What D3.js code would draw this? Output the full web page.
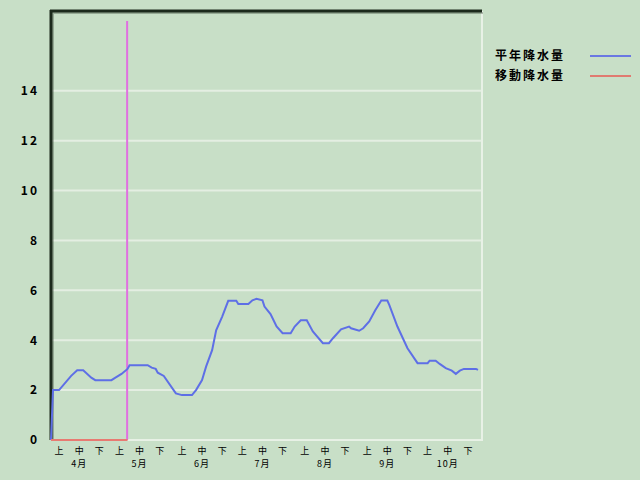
<!DOCTYPE html>
<html><head><meta charset="utf-8">
<script src="https://cdn.jsdelivr.net/npm/d3@7"></script>
<style>
html,body{margin:0;padding:0;background:#c8dfc7;}
svg{display:block;}
text{font-family:"Noto Sans CJK JP","DejaVu Sans",sans-serif;fill:#000;}
</style></head>
<body>
<svg id="c" width="640" height="480"></svg>
<script>
// ---- data ----
const months = ["4月","5月","6月","7月","8月","9月","10月"];
const monthStartDays = [0,30,61,91,122,153,183];
const dekadNames = ["上","中","下"];
const dekadOffsets = [0,10,20];
const yTicks = [0,2,4,6,8,10,12,14];
const seriesNames = ["平年降水量","移動降水量"];

// 平年降水量 (normal), vertices: day index from Apr 1, value
const normalDays =   [0,1,4,10,13,16,20,22,30,32,35,38,39,48,50,52,53,56,62,65,70,72,75,77,80,82,85,88,92,93,98,100,102,105,106,109,112,115,119,121,124,127,130,135,138,140,144,148,149,153,155,158,161,164,167,168,172,177,182,187,188,191,193,196,199,201,203,205,211,212];
const normalValues = [0,2.0,2.0,2.57,2.8,2.8,2.5,2.4,2.4,2.5,2.65,2.85,3.0,3.0,2.9,2.85,2.7,2.57,1.87,1.8,1.8,2.0,2.4,2.94,3.6,4.4,4.95,5.58,5.58,5.45,5.45,5.6,5.66,5.6,5.35,5.05,4.55,4.28,4.28,4.55,4.8,4.8,4.35,3.88,3.88,4.08,4.44,4.55,4.48,4.38,4.48,4.75,5.2,5.59,5.59,5.41,4.55,3.68,3.08,3.08,3.18,3.18,3.05,2.88,2.78,2.65,2.78,2.85,2.85,2.81];

// 移動降水量 (current), daily from Apr 1
const movingValues = [0,0,0,0,0,0,0,0,0,0,0,0,0,0,0,0,0,0,0,0,0,0,0,0,0,0,0,0,0,0,0,0,0,0,0,0,0,0,0];
const todayDay = 37.8;
const yMax = 17.2;
const totalDays = 214;

// ---- drawing ----
const svg = d3.select("#c");
const L=51, R=482, T=11, B=440;
const x = d3.scaleLinear().domain([0,totalDays]).range([L,R]);
const y = d3.scaleLinear().domain([0,yMax]).range([B,T]);

// grid lines
svg.append("g").selectAll("line").data(yTicks.filter(v=>v>0)).join("line")
  .attr("x1",L).attr("x2",R).attr("y1",d=>y(d)).attr("y2",d=>y(d))
  .attr("stroke","#e4eee2").attr("stroke-width",2);
// bottom axis & right border (light)
svg.append("line").attr("x1",L).attr("x2",R+1).attr("y1",B).attr("y2",B)
  .attr("stroke","#e8f1e6").attr("stroke-width",2);
svg.append("line").attr("x1",R).attr("x2",R).attr("y1",T).attr("y2",B)
  .attr("stroke","#e8f1e6").attr("stroke-width",2);

// y axis labels
const yAxis = d3.axisLeft(y).tickValues(yTicks).tickSize(0).tickPadding(12).tickFormat(d3.format("d"));
const gy = svg.append("g").attr("transform",`translate(${L},0)`).call(yAxis);
gy.select(".domain").remove();
gy.selectAll("text").attr("font-size",12).attr("font-weight","bold")
  .attr("letter-spacing","2px").attr("fill","#000").attr("font-family","\"Noto Sans CJK JP\",sans-serif");

// x labels
const dek = [];
monthStartDays.forEach((s,mi)=>dekadNames.forEach((n,di)=>dek.push({n, d:s+dekadOffsets[di]+4.5})));
svg.append("g").selectAll("text").data(dek).join("text")
  .attr("x",d=>x(d.d)-1).attr("y",454).attr("text-anchor","middle")
  .attr("font-size",9).text(d=>d.n);
svg.append("g").selectAll("text").data(months).join("text")
  .attr("x",(d,i)=>x(monthStartDays[i]+14.5)-1).attr("y",467).attr("text-anchor","middle")
  .attr("font-size",9).attr("letter-spacing","1px").text(d=>d);

// dark top/left frame
const shadow = svg.append("g").attr("opacity",0.35);
shadow.append("line").attr("x1",L+1).attr("x2",R+1).attr("y1",T+2).attr("y2",T+2).attr("stroke","#3a4a3a").attr("stroke-width",2);
shadow.append("line").attr("x1",L+2).attr("x2",L+2).attr("y1",T+1).attr("y2",B).attr("stroke","#3a4a3a").attr("stroke-width",2);
svg.append("line").attr("x1",L-1).attr("x2",R).attr("y1",T).attr("y2",T).attr("stroke","#1c2a1c").attr("stroke-width",3);
svg.append("line").attr("x1",L).attr("x2",L).attr("y1",T-1).attr("y2",B).attr("stroke","#1c2a1c").attr("stroke-width",3);

// today marker
svg.append("line").attr("x1",x(todayDay)).attr("x2",x(todayDay)).attr("y1",21).attr("y2",B)
  .attr("stroke","#e070e0").attr("stroke-width",2);

// normal line
const line = d3.line().x(d=>x(d[0])).y(d=>y(d[1]));
svg.append("path").datum(normalDays.map((d,i)=>[d,normalValues[i]]))
  .attr("d",line).attr("fill","none").attr("stroke","#5e6fe6").attr("stroke-width",2);
// moving line
svg.append("path").datum(movingValues.map((v,i)=>[i,v]).concat([[todayDay,movingValues[movingValues.length-1]]]))
  .attr("d",line).attr("fill","none").attr("stroke","#e87a72").attr("stroke-width",2);

// legend
const legColors = ["#6a78e2","#e07a70"];
const lg = svg.append("g");
seriesNames.forEach((n,i)=>{
  lg.append("text").attr("x",495).attr("y",60+i*20).attr("font-size",12).attr("font-weight","bold")
    .attr("letter-spacing","2px").text(n);
  lg.append("line").attr("x1",590).attr("x2",631).attr("y1",56+i*20).attr("y2",56+i*20)
    .attr("stroke",legColors[i]).attr("stroke-width",2);
});
</script>
</body></html>
